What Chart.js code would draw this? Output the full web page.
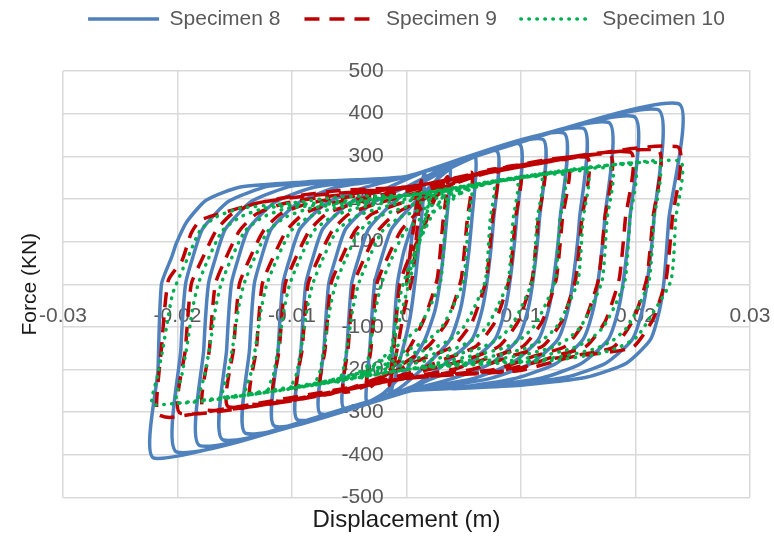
<!DOCTYPE html>
<html>
<head>
<meta charset="utf-8">
<script src="https://cdn.jsdelivr.net/npm/chart.js@4.4.0/dist/chart.umd.min.js"></script>
<style>
  html, body { margin: 0; padding: 0; background: #fff; }
  canvas { display: block; }
</style>
</head>
<body>
<canvas id="chart" width="774" height="536"></canvas>
<script>
const seriesNames = ['Specimen 8', 'Specimen 9', 'Specimen 10'];
const xTickLabels = ['-0.03', '-0.02', '-0.01', '0', '0.01', '0.02', '0.03'];
const yTickLabels = ['-500', '-400', '-300', '-200', '-100', '0', '100', '200', '300', '400', '500'];

// Specimen 8 - displacement (m), one row per half cycle
const spec8X = [
  0, 0.0008, 0.0016,
  0.0013, 0.0008, 0.0003, -0.0005, -0.0015,
  -0.0012, -0.0008, -0.0002, 0.0008, 0.0022, 0.0038,
  0.0035, 0.0030, 0.0025, 0.0016, 0.0000, -0.0020, -0.0035,
  -0.0032, -0.0028, -0.0022, -0.0013, 0.0010, 0.0035, 0.0060,
  0.0057, 0.0052, 0.0047, 0.0038, 0.0015, -0.0010, -0.0055,
  -0.0052, -0.0048, -0.0042, -0.0033, -0.0010, 0.0025, 0.0079,
  0.0076, 0.0071, 0.0066, 0.0057, 0.0034, 0.0005, -0.0075,
  -0.0072, -0.0068, -0.0062, -0.0053, -0.0030, 0.0005, 0.0040, 0.0099,
  0.0096, 0.0091, 0.0086, 0.0077, 0.0054, 0.0019, 0, -0.0095,
  -0.0092, -0.0088, -0.0082, -0.0073, -0.0050, -0.0015, 0.0020, 0.0119,
  0.0116, 0.0111, 0.0106, 0.0097, 0.0074, 0.0039, 0, -0.0115,
  -0.0112, -0.0108, -0.0102, -0.0093, -0.0070, -0.0035, 0, 0.0137,
  0.0134, 0.0129, 0.0124, 0.0115, 0.0092, 0.0057, 0.0010, -0.0140,
  -0.0137, -0.0133, -0.0127, -0.0118, -0.0095, -0.0060, 0, 0.0154,
  0.0151, 0.0146, 0.0141, 0.0132, 0.0109, 0.0074, 0.0020, 0, -0.0160,
  -0.0157, -0.0153, -0.0147, -0.0138, -0.0115, -0.0080, -0.0020, 0, 0.0176,
  0.0173, 0.0168, 0.0163, 0.0154, 0.0131, 0.0096, 0.0040, 0, -0.0180,
  -0.0177, -0.0173, -0.0167, -0.0158, -0.0135, -0.0100, -0.0040, 0, 0.0198,
  0.0195, 0.0190, 0.0185, 0.0176, 0.0153, 0.0118, 0.0060, 0, -0.0200,
  -0.0197, -0.0193, -0.0187, -0.0178, -0.0155, -0.0120, -0.0060, 0, 0.0219,
  0.0216, 0.0211, 0.0206, 0.0197, 0.0174, 0.0139, 0.0080, 0, -0.0220,
  -0.0217, -0.0214, -0.0205, -0.0201, -0.0192, -0.0175, -0.0145, -0.0088, 0, 0.0237,
  0.0229, 0.0225, 0.0221, 0.0213, 0.0192, 0.0157, 0.0100, 0.0040
];
// Specimen 8 - force (kN)
const spec8Y = [
  0, 180, 262,
  150, 20, -80, -170, -261,
  -150, 0, 80, 160, 230, 278,
  150, 20, -60, -130, -200, -255, -275,
  -150, 0, 60, 130, 200, 265, 300,
  150, 20, -60, -130, -195, -250, -290,
  -150, 0, 60, 130, 195, 255, 312,
  150, 20, -60, -130, -185, -240, -304,
  -150, 0, 60, 130, 190, 235, 282, 328,
  150, 20, -60, -130, -185, -225, -250, -318,
  -150, 0, 60, 130, 190, 228, 268, 340,
  150, 20, -60, -130, -185, -222, -250, -333,
  -150, 0, 60, 130, 190, 228, 252, 355,
  150, 20, -60, -130, -185, -222, -245, -350,
  -150, 0, 60, 130, 190, 228, 252, 366,
  150, 20, -60, -130, -185, -220, -245, -250, -365,
  -150, 0, 60, 130, 192, 228, 248, 253, 380,
  150, 20, -60, -130, -185, -220, -244, -251, -379,
  -150, 0, 60, 130, 195, 230, 245, 253, 394,
  150, 20, -60, -130, -185, -220, -240, -251, -394,
  -150, 0, 60, 130, 195, 230, 243, 253, 410,
  150, 20, -60, -130, -185, -218, -238, -251, -408,
  -200, 0, 64, 96, 146, 197, 228, 240, 253, 424,
  150, 10, -60, -130, -185, -218, -237, -245
];

// Specimen 9
const spec9X = [
  0, 0.0008, 0.0013,
  0.0010, 0.0005, -0.0002, -0.0008, -0.0015,
  -0.0011, -0.0006, 0.0002, 0.0014, 0.0024, 0.0036,
  0.0032, 0.0027, 0.0021, 0.0014, 0.0000, -0.0020, -0.0035,
  -0.0031, -0.0026, -0.0017, -0.0005, 0.0010, 0.0030, 0.0057,
  0.0053, 0.0048, 0.0042, 0.0035, 0.0019, -0.0005, -0.0030, -0.0055,
  -0.0051, -0.0046, -0.0037, -0.0025, -0.0010, 0.0015, 0.0040, 0.0079,
  0.0075, 0.0070, 0.0064, 0.0057, 0.0041, 0.0014, -0.0020, -0.0075,
  -0.0071, -0.0066, -0.0057, -0.0045, -0.0030, -0.0005, 0.0030, 0.0099,
  0.0095, 0.0090, 0.0084, 0.0077, 0.0061, 0.0034, 0, -0.0095,
  -0.0091, -0.0086, -0.0077, -0.0065, -0.0050, -0.0025, 0.0010, 0.0119,
  0.0115, 0.0110, 0.0104, 0.0097, 0.0081, 0.0054, 0.0019, 0, -0.0115,
  -0.0111, -0.0106, -0.0097, -0.0085, -0.0070, -0.0045, -0.0005, 0.0140,
  0.0136, 0.0131, 0.0125, 0.0118, 0.0102, 0.0075, 0.0040, 0, -0.0135,
  -0.0131, -0.0126, -0.0117, -0.0105, -0.0090, -0.0065, -0.0025, 0, 0.0157,
  0.0153, 0.0148, 0.0142, 0.0135, 0.0119, 0.0092, 0.0057, 0, -0.0155,
  -0.0151, -0.0146, -0.0137, -0.0125, -0.0110, -0.0085, -0.0045, 0, 0.0177,
  0.0173, 0.0168, 0.0162, 0.0155, 0.0139, 0.0112, 0.0077, 0, -0.0176,
  -0.0172, -0.0167, -0.0158, -0.0146, -0.0131, -0.0106, -0.0066, 0, 0.0195,
  0.0191, 0.0186, 0.0180, 0.0173, 0.0157, 0.0130, 0.0095, 0, -0.0197,
  -0.0193, -0.0188, -0.0179, -0.0166, -0.0152, -0.0131, -0.0087, 0, 0.0219,
  0.0215, 0.0210, 0.0204, 0.0198, 0.0181, 0.0152, 0.0126, 0.0082, 0, -0.0205, -0.0218,
  -0.0214, -0.0208, -0.0196, -0.0188, -0.0180, -0.0157, -0.0131, -0.0102, -0.0058, 0, 0.0236,
  0.0232, 0.0227, 0.0221, 0.0215, 0.0198, 0.0169, 0.0143, 0.0099, 0.0012
];
const spec9Y = [
  0, 170, 243,
  150, 15, -60, -150, -237,
  -150, 0, 60, 125, 195, 252,
  150, 15, -40, -90, -160, -215, -245,
  -150, 0, 60, 125, 170, 215, 262,
  150, 15, -40, -90, -145, -190, -232, -252,
  -150, 0, 60, 125, 165, 200, 235, 270,
  150, 15, -40, -90, -145, -175, -215, -259,
  -150, 0, 60, 125, 165, 190, 225, 278,
  150, 15, -40, -90, -145, -175, -210, -266,
  -150, 0, 60, 125, 165, 190, 215, 285,
  150, 15, -40, -90, -145, -175, -200, -215, -273,
  -150, 0, 60, 125, 165, 190, 215, 292,
  150, 15, -40, -90, -145, -170, -200, -218, -281,
  -150, 0, 60, 125, 165, 190, 207, 225, 298,
  150, 15, -40, -90, -145, -168, -200, -220, -288,
  -150, 0, 60, 125, 165, 190, 207, 226, 304,
  150, 15, -40, -90, -145, -168, -200, -220, -295,
  -150, 0, 60, 125, 165, 190, 207, 227, 310,
  150, 15, -40, -90, -145, -168, -200, -221, -303,
  -150, 0, 56, 127, 166, 190, 207, 228, 315,
  150, 15, -40, -84, -147, -165, -175, -202, -221, -312, -302,
  -150, 9, 56, 120, 150, 170, 190, 205, 220, 228, 323,
  150, 16, -40, -84, -147, -162, -171, -202, -217
];

// Specimen 10
const spec10X = [
  0, 0.0022,
  -0.0017,
  -0.0013, -0.0008, -0.0003, 0.0008, 0.0020, 0.0037,
  0.0034, 0.0030, 0.0021, 0.0011, -0.0001, -0.0020, -0.0040,
  -0.0036, -0.0032, -0.0027, -0.0022, -0.0013, -0.0001, 0.0015, 0.0036, 0.0057,
  0.0054, 0.0050, 0.0041, 0.0031, 0.0019, 0.0004, -0.0018, -0.0060,
  -0.0056, -0.0052, -0.0047, -0.0042, -0.0033, -0.0021, -0.0005, 0.0016, 0.0040, 0.0076,
  0.0073, 0.0069, 0.0060, 0.0050, 0.0038, 0.0023, 0.0001, -0.0034, -0.0080,
  -0.0076, -0.0072, -0.0067, -0.0062, -0.0053, -0.0041, -0.0025, -0.0004, 0.0030, 0.0096,
  0.0093, 0.0089, 0.0080, 0.0070, 0.0058, 0.0043, 0.0021, -0.0014, -0.0100,
  -0.0096, -0.0092, -0.0087, -0.0082, -0.0073, -0.0061, -0.0045, -0.0024, 0.0010, 0.0117,
  0.0114, 0.0110, 0.0101, 0.0091, 0.0079, 0.0064, 0.0042, 0.0007, -0.0120,
  -0.0116, -0.0112, -0.0107, -0.0102, -0.0093, -0.0081, -0.0065, -0.0044, -0.0010, 0.0137,
  0.0134, 0.0130, 0.0121, 0.0111, 0.0099, 0.0084, 0.0062, 0.0027, 0, -0.0140,
  -0.0136, -0.0132, -0.0127, -0.0122, -0.0113, -0.0101, -0.0085, -0.0064, -0.0030, 0, 0.0157,
  0.0154, 0.0150, 0.0141, 0.0131, 0.0119, 0.0104, 0.0082, 0.0047, 0, -0.0160,
  -0.0156, -0.0152, -0.0147, -0.0142, -0.0133, -0.0121, -0.0105, -0.0084, -0.0050, 0, 0.0178,
  0.0175, 0.0171, 0.0162, 0.0152, 0.0140, 0.0125, 0.0103, 0.0068, 0, -0.0180,
  -0.0176, -0.0172, -0.0167, -0.0162, -0.0153, -0.0141, -0.0125, -0.0104, -0.0060, 0, 0.0198,
  0.0195, 0.0191, 0.0182, 0.0172, 0.0160, 0.0145, 0.0123, 0.0088, 0, -0.0200,
  -0.0196, -0.0192, -0.0187, -0.0182, -0.0173, -0.0161, -0.0145, -0.0124, -0.0080, 0, 0.0219,
  0.0216, 0.0212, 0.0203, 0.0193, 0.0181, 0.0166, 0.0144, 0.0109, 0, -0.0221,
  -0.0217, -0.0213, -0.0209, -0.0204, -0.0192, -0.0180, -0.0166, -0.0145, -0.0102, -0.0058, 0, 0.0238,
  0.0235, 0.0231, 0.0215, 0.0201, 0.0186, 0.0169, 0.0130, 0.0090
];
const spec10Y = [
  0, 212,
  -198,
  -150, -60, 0, 80, 150, 225,
  150, 10, -50, -100, -130, -170, -221,
  -210, -150, -60, 0, 60, 125, 158, 190, 232,
  150, 10, -50, -100, -130, -150, -175, -229,
  -210, -150, -60, 0, 60, 125, 158, 178, 205, 238,
  150, 10, -50, -100, -130, -150, -165, -205, -236,
  -210, -150, -60, 0, 60, 125, 158, 178, 205, 245,
  150, 10, -50, -100, -130, -150, -165, -190, -243,
  -210, -150, -60, 0, 60, 125, 158, 178, 200, 252,
  150, 10, -50, -100, -130, -150, -165, -185, -250,
  -210, -150, -60, 0, 60, 125, 158, 178, 195, 258,
  150, 10, -50, -100, -130, -150, -165, -185, -200, -257,
  -210, -150, -60, 0, 60, 125, 158, 178, 192, 208, 265,
  150, 10, -50, -100, -130, -150, -165, -182, -200, -265,
  -210, -150, -60, 0, 60, 125, 158, 178, 190, 208, 272,
  150, 10, -50, -100, -130, -150, -165, -180, -200, -272,
  -210, -150, -60, 0, 60, 125, 158, 178, 190, 208, 280,
  150, 10, -50, -100, -130, -150, -165, -180, -200, -279,
  -210, -150, -60, 0, 60, 125, 158, 178, 190, 208, 285,
  150, 10, -50, -100, -130, -150, -165, -180, -200, -283,
  -210, -155, -91, -20, 56, 127, 158, 178, 190, 205, 210, 290,
  150, 9, -68, -124, -147, -162, -178, -185
];

function toPoints(xs, ys) {
  return xs.map((x, i) => ({ x: x, y: ys[i] }));
}

Chart.defaults.font.family = "'Liberation Sans', Arial, sans-serif";

const gridColor = '#d9d9d9';
const tickFont = { size: 21 };

const ctx = document.getElementById('chart').getContext('2d');
const chart = new Chart(ctx, {
  type: 'scatter',
  data: {
    datasets: [
      {
        label: seriesNames[0],
        data: toPoints(spec8X, spec8Y),
        xAxisID: 'x',
        yAxisID: 'y',
        showLine: true,
        borderColor: '#4f81bd',
        backgroundColor: '#4f81bd',
        borderWidth: 3.5,
        borderJoinStyle: 'round',
        pointRadius: 0,
        tension: 0.2,
        order: 2
      },
      {
        label: seriesNames[1],
        data: toPoints(spec9X, spec9Y),
        xAxisID: 'x',
        yAxisID: 'y',
        showLine: true,
        borderColor: '#c00000',
        backgroundColor: '#c00000',
        borderWidth: 3.5,
        borderDash: [15, 10],
        pointRadius: 0,
        tension: 0.2,
        order: 1
      },
      {
        label: seriesNames[2],
        data: toPoints(spec10X, spec10Y),
        xAxisID: 'x',
        yAxisID: 'y',
        showLine: true,
        borderColor: '#00b050',
        backgroundColor: '#00b050',
        borderWidth: 3.5,
        borderDash: [0.5, 7.5],
        borderCapStyle: 'round',
        pointRadius: 0,
        tension: 0.2,
        order: 0
      }
    ]
  },
  options: {
    responsive: false,
    animation: false,
    devicePixelRatio: 1,
    layout: { padding: { top: -15.5, right: 24, bottom: 0, left: 0 } },
    scales: {
      x: {
        type: 'linear',
        min: -0.03,
        max: 0.03,
        position: { y: -45 },
        grid: { color: gridColor, lineWidth: 1.5, drawTicks: false },
        border: { display: false },
        ticks: {
          stepSize: 0.01,
          padding: 0,
          autoSkip: false,
          maxRotation: 0,
          color: '#595959',
          font: tickFont,
          callback: (value, index) => xTickLabels[index]
        }
      },
      y: {
        type: 'linear',
        min: -500,
        max: 500,
        position: { x: -0.002 },
        grid: { color: gridColor, lineWidth: 1.5, drawTicks: false },
        border: { display: false },
        ticks: {
          stepSize: 100,
          padding: 0,
          autoSkip: false,
          color: '#595959',
          font: tickFont,
          callback: (value, index) => yTickLabels[index]
        }
      },
      // empty band between the legend and the plot area
      gap: {
        type: 'linear',
        axis: 'x',
        position: 'top',
        min: -0.03,
        max: 0.03,
        grid: { display: false, drawTicks: false },
        border: { display: false },
        ticks: { display: false },
        afterFit: (scale) => { scale.height = 31.5; }
      }
    },
    plugins: {
      legend: {
        position: 'top',
        fullSize: false,
        labels: {
          usePointStyle: true,
          pointStyle: 'line',
          pointStyleWidth: 71,
          padding: 24,
          color: '#595959',
          font: { size: 21 },
          sort: (a, b) => a.datasetIndex - b.datasetIndex,
          generateLabels: (chart) => {
            const items = Chart.defaults.plugins.legend.labels.generateLabels(chart);
            items.forEach(item => {
              const ds = chart.data.datasets[item.datasetIndex];
              item.lineDash = ds.borderDash || [];
              item.lineCap = ds.borderCapStyle || 'butt';
              item.lineWidth = ds.borderWidth;
              item.strokeStyle = ds.borderColor;
            });
            return items;
          }
        }
      },
      title: {
        display: true,
        text: 'Force (KN)',
        position: 'left',
        fullSize: false,
        color: '#1a1a1a',
        font: { size: 21, weight: 'normal' },
        padding: { top: 17.4, bottom: 20.4 }
      },
      subtitle: {
        display: true,
        text: 'Displacement (m)',
        position: 'bottom',
        fullSize: false,
        color: '#1a1a1a',
        font: { size: 24, weight: 'normal' },
        padding: { top: 8.1, bottom: 1.6 }
      },
      tooltip: { enabled: false }
    }
  }
});
</script>
</body>
</html>
